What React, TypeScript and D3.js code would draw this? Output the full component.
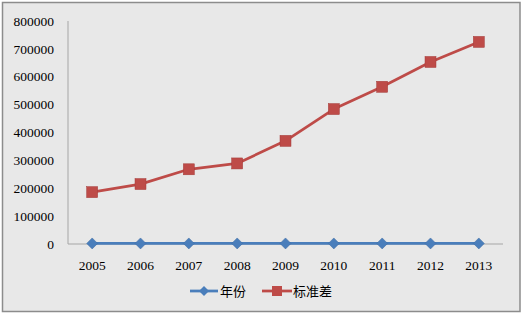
import React from "react";
import * as d3 from "d3";

const years = ["2005", "2006", "2007", "2008", "2009", "2010", "2011", "2012", "2013"];
const yearValues = [2005, 2006, 2007, 2008, 2009, 2010, 2011, 2012, 2013];
const stdValues = [186000, 215000, 268000, 289000, 370000, 484000, 564000, 653000, 725000];
const yTicks = [0, 100000, 200000, 300000, 400000, 500000, 600000, 700000, 800000];
const seriesNames = ["年份", "标准差"];

const W = 522, H = 314;
const left = 68, right = 503, top = 21, bottom = 244;
const BLUE = "#4A7EBB";
const RED = "#BE4B48";

export default function App() {
  const x = d3.scaleBand<string>().domain(years).range([left, right]);
  const y = d3.scaleLinear().domain([0, 800000]).range([bottom, top]);
  const cx = (d: string) => (x(d) as number) + x.bandwidth() / 2;
  const line = d3.line<number>().x((_, i) => cx(years[i])).y((v) => y(v));
  const font = "'Liberation Serif', 'Times New Roman', serif";
  const diamond = (px: number, py: number, r = 5.5) =>
    `M${px},${py - r}L${px + r},${py}L${px},${py + r}L${px - r},${py}Z`;

  return (
    <div style={{ position: "fixed", left: 0, top: 0 }}>
      <svg width={W} height={H} style={{ display: "block" }}>
        <rect x={2.5} y={2.5} width={517.5} height={309} fill="#E8E8E8" stroke="#8C8C8C" strokeWidth={1.5} />
        <line x1={left} x2={left} y1={top} y2={bottom} stroke="#A6A6A6" strokeWidth={1} />
        <line x1={left} x2={right} y1={bottom} y2={bottom} stroke="#A6A6A6" strokeWidth={1} />
        {yTicks.map((t) => (
          <text key={t} x={54} y={y(t)} dy="0.35em" textAnchor="end" fontFamily={font} fontSize={13.5} fill="#000">
            {t}
          </text>
        ))}
        {years.map((yr) => (
          <text key={yr} x={cx(yr)} y={265} dy="0.35em" textAnchor="middle" fontFamily={font} fontSize={13.5} fill="#000">
            {yr}
          </text>
        ))}
        <path d={line(stdValues) || ""} fill="none" stroke={RED} strokeWidth={2.75} strokeLinejoin="round" />
        {stdValues.map((v, i) => (
          <rect key={i} x={cx(years[i]) - 5.5} y={y(v) - 5.5} width={11} height={11} fill={RED} stroke="#A33B38" strokeWidth={0.5} />
        ))}
        <path d={line(yearValues) || ""} fill="none" stroke={BLUE} strokeWidth={2.75} />
        {yearValues.map((v, i) => (
          <path key={i} d={diamond(cx(years[i]), y(v))} fill={BLUE} stroke="#3C6AA3" strokeWidth={0.5} />
        ))}
        <g>
          <line x1={190} x2={218} y1={291} y2={291} stroke={BLUE} strokeWidth={2.75} />
          <path d={diamond(204, 291, 5)} fill={BLUE} />
          <text x={220} y={291} dy="0.35em" fontFamily="'Noto Sans CJK SC', sans-serif" fontSize={13} fill="#000">
            {seriesNames[0]}
          </text>
          <line x1={262} x2={292} y1={291} y2={291} stroke={RED} strokeWidth={2.75} />
          <rect x={272} y={286} width={10} height={10} fill={RED} />
          <text x={293} y={291} dy="0.35em" fontFamily="'Noto Sans CJK SC', sans-serif" fontSize={13} fill="#000">
            {seriesNames[1]}
          </text>
        </g>
      </svg>
    </div>
  );
}
